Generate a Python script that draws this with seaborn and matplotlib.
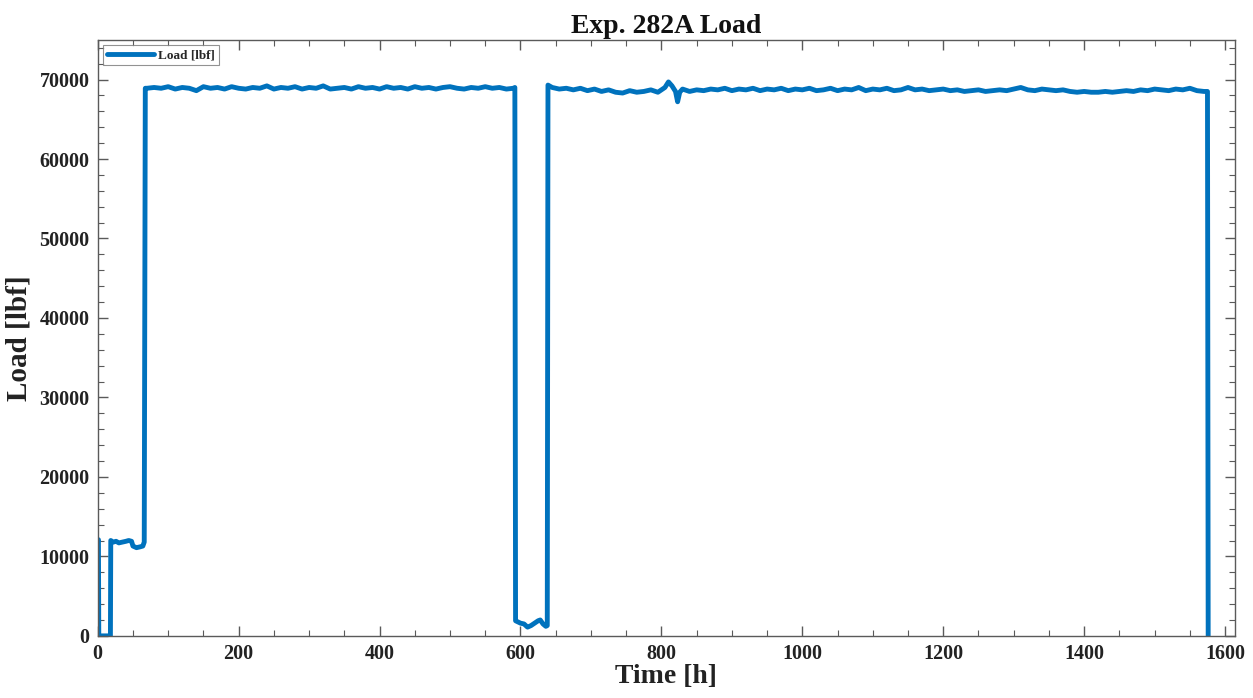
import matplotlib
matplotlib.use("Agg")
import matplotlib.pyplot as plt
from matplotlib.ticker import MultipleLocator
import seaborn as sns
import pandas as pd

# Time stamps [h] and measured load [lbf] for experiment 282A
time_h = [
    0, 1, 1.5, 18, 18.5, 22, 26, 30, 35, 40, 44, 48, 50, 55, 60, 64, 66, 67.5,
    70, 80, 90, 100, 110, 120, 130, 140, 150, 160, 170, 180, 190, 200, 210, 220,
    230, 240, 250, 260, 270, 280, 290, 300, 310, 320, 330, 340, 350, 360, 370,
    380, 390, 400, 410, 420, 430, 440, 450, 460, 470, 480, 490, 500, 510, 520,
    530, 540, 550, 560, 570, 580, 590, 592,
    593, 600, 605, 610, 615, 620, 625, 628, 632, 636, 638,
    639, 645, 655, 665, 675, 685, 695, 705, 715, 725, 735, 745, 755, 765, 775,
    785, 795, 805, 810, 815, 820, 823, 826, 830, 840, 850, 860, 870, 880, 890,
    900, 910, 920, 930, 940, 950, 960, 970, 980, 990, 1000, 1010, 1020, 1030,
    1040, 1050, 1060, 1070, 1080, 1090, 1100, 1110, 1120, 1130, 1140, 1150,
    1160, 1170, 1180, 1190, 1200, 1210, 1220, 1230, 1240, 1250, 1260, 1270,
    1280, 1290, 1300, 1310, 1320, 1330, 1340, 1350, 1360, 1370, 1380, 1390,
    1400, 1410, 1420, 1430, 1440, 1450, 1460, 1470, 1480, 1490, 1500, 1510,
    1520, 1530, 1540, 1550, 1560, 1570, 1575, 1576,
]
load_lbf = [
    11900, 12100, 0, 0, 12000, 11800, 11900, 11700, 11800, 11900, 12000, 11900,
    11300, 11100, 11200, 11300, 11800, 68900,
    68900, 69000, 68900, 69100, 68800, 69000, 68900, 68600, 69100, 68900, 69000,
    68800, 69100, 68900, 68800, 69000, 68900, 69200, 68800, 69000, 68900, 69100,
    68800, 69000, 68900, 69200, 68800, 68900, 69000, 68800, 69100, 68900, 69000,
    68800, 69100, 68900, 69000, 68800, 69100, 68900, 69000, 68800, 69000, 69100,
    68900, 68800, 69000, 68900, 69100, 68900, 69000, 68800, 68900, 69000,
    1900, 1600, 1500, 1100, 1300, 1600, 1900, 2000, 1500, 1200, 1300,
    69300, 69000, 68800, 68900, 68700, 68900, 68600, 68800, 68500, 68700, 68400,
    68300, 68600, 68400, 68500, 68700, 68400, 69000, 69700, 69200, 68500, 67200,
    68400, 68800, 68500, 68700, 68600, 68800, 68700, 68900, 68600, 68800, 68700,
    68900, 68600, 68800, 68700, 68900, 68600, 68800, 68700, 68900, 68600, 68700,
    68900, 68600, 68800, 68700, 69000, 68600, 68800, 68700, 68900, 68600, 68700,
    69000, 68700, 68800, 68600, 68700, 68800, 68600, 68700, 68500, 68600, 68700,
    68500, 68600, 68700, 68600, 68800, 69000, 68700, 68600, 68800, 68700, 68600,
    68700, 68500, 68400, 68500, 68400, 68400, 68500, 68400, 68500, 68600, 68500,
    68700, 68600, 68800, 68700, 68600, 68800, 68700, 68900, 68600, 68500, 68500,
    0,
]

title_text = "Exp. 282A Load"
x_label = "Time [h]"
y_label = "Load [lbf]"
series_name = "Load [lbf]"

df = pd.DataFrame({"time": time_h, "load": load_lbf})

sns.set_theme(style="white")
plt.rcParams["font.family"] = ["Liberation Serif", "DejaVu Serif"]
plt.rcParams["font.weight"] = "bold"

fig = plt.figure(figsize=(12.53, 6.98), dpi=100)
ax = fig.add_axes([0.078, 0.089, 0.9076, 0.854])

sns.lineplot(data=df, x="time", y="load", ax=ax, sort=False, estimator=None,
             color="#0072BD", linewidth=3.5, label=series_name)

ax.set_xlim(0, 1614)
ax.set_ylim(0, 75000)
ax.xaxis.set_major_locator(MultipleLocator(200))
ax.xaxis.set_minor_locator(MultipleLocator(50))
ax.yaxis.set_major_locator(MultipleLocator(10000))
ax.yaxis.set_minor_locator(MultipleLocator(2000))

axis_gray = "#5a5a5a"
for s in ax.spines.values():
    s.set_color(axis_gray)
    s.set_linewidth(1.0)
ax.tick_params(which="both", direction="in", top=True, right=True,
               bottom=True, left=True, color=axis_gray)
ax.tick_params(which="major", length=7, width=1.0, labelsize=14.5,
               labelcolor="#222222", pad=6)
ax.tick_params(which="minor", length=4, width=0.8)

ax.set_title(title_text, fontsize=20, fontweight="bold", color="#111111", pad=5)
ax.set_xlabel(x_label, fontsize=20, fontweight="bold", color="#222222", labelpad=0)
ax.set_ylabel(y_label, fontsize=21, fontweight="bold", color="#222222", labelpad=5)

leg = ax.legend(loc="upper left", fontsize=9.5, frameon=True, fancybox=False,
                borderpad=0.3, handlelength=3.6, handletextpad=0.3,
                borderaxespad=0.4)
leg.get_frame().set_edgecolor("#777777")
leg.get_frame().set_linewidth(0.8)
for t in leg.get_texts():
    t.set_fontweight("bold")

fig.savefig("out.png", dpi=100)
